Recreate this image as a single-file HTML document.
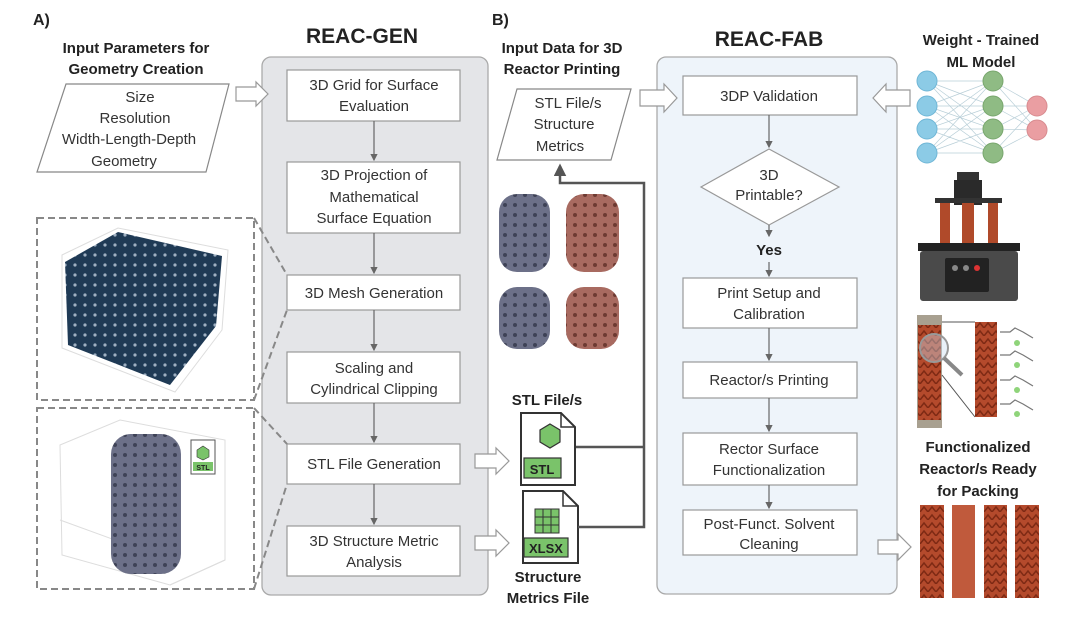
<!DOCTYPE html>
<html><head><meta charset="utf-8"><style>
html,body{margin:0;padding:0;background:#fff}
svg{display:block}
text{font-family:"Liberation Sans",sans-serif;fill:#333}
.b{font-weight:bold;fill:#222}
</style></head><body>
<svg width="1080" height="619" viewBox="0 0 1080 619" xmlns="http://www.w3.org/2000/svg">
<defs>
<marker id="ah" markerWidth="6" markerHeight="6" refX="5" refY="3" orient="auto"><path d="M0,0 L6,3 L0,6 z" fill="#666"/></marker>
<marker id="ah2" markerWidth="5" markerHeight="5" refX="4" refY="2.5" orient="auto"><path d="M0,0 L5,2.5 L0,5 z" fill="#555"/></marker>
<pattern id="pb" width="10" height="10" patternUnits="userSpaceOnUse"><rect width="10" height="10" fill="#6c7088"/><circle cx="5" cy="5" r="2" fill="#3e4256"/></pattern>
<pattern id="pr" width="10" height="10" patternUnits="userSpaceOnUse"><rect width="10" height="10" fill="#a86a60"/><circle cx="5" cy="5" r="2" fill="#6e3a32"/></pattern>
<pattern id="po" width="8" height="8" patternUnits="userSpaceOnUse"><rect width="8" height="8" fill="#b44a2c"/><path d="M0,8 L4,3 L8,8" stroke="#7e2a14" fill="none" stroke-width="1.5"/></pattern>
<pattern id="pd" width="10" height="10" patternUnits="userSpaceOnUse"><rect width="10" height="10" fill="#1f3a55"/><circle cx="5" cy="5" r="1.6" fill="#9fb0c2"/></pattern>
</defs>

<!-- labels -->
<text x="33" y="25" class="b" font-size="16">A)</text>
<text x="492" y="25" class="b" font-size="16">B)</text>
<text x="362" y="43" class="b" font-size="21" text-anchor="middle">REAC-GEN</text>
<text x="769" y="46" class="b" font-size="21" text-anchor="middle">REAC-FAB</text>
<text x="136" y="53" class="b" font-size="15" text-anchor="middle">Input Parameters for</text>
<text x="136" y="74" class="b" font-size="15" text-anchor="middle">Geometry Creation</text>
<text x="562" y="53" class="b" font-size="15" text-anchor="middle">Input Data for 3D</text>
<text x="562" y="74" class="b" font-size="15" text-anchor="middle">Reactor Printing</text>
<text x="981" y="45" class="b" font-size="15" text-anchor="middle">Weight - Trained</text>
<text x="981" y="67" class="b" font-size="15" text-anchor="middle">ML Model</text>

<!-- input parallelogram A -->
<polygon points="66,84 229,84 206,172 37,172" fill="#fff" stroke="#888" stroke-width="1.2"/>
<text x="140" y="102" font-size="15" text-anchor="middle">Size</text>
<text x="135" y="123" font-size="15" text-anchor="middle">Resolution</text>
<text x="129" y="144" font-size="15" text-anchor="middle">Width-Length-Depth</text>
<text x="124" y="166" font-size="15" text-anchor="middle">Geometry</text>

<!-- GEN panel -->
<rect x="262" y="57" width="226" height="538" rx="9" fill="#e4e5e8" stroke="#aaa" stroke-width="1.3"/>
<path d="M236,87 H256 V82 L268,94 L256,106 V101 H236 Z" fill="#fff" stroke="#999" stroke-width="1.2"/>
<g fill="#fff" stroke="#999" stroke-width="1.2">
<rect x="287" y="70" width="173" height="51"/>
<rect x="287" y="162" width="173" height="71"/>
<rect x="287" y="275" width="173" height="35"/>
<rect x="287" y="352" width="173" height="51"/>
<rect x="287" y="444" width="173" height="40"/>
<rect x="287" y="526" width="173" height="50"/>
</g>
<g stroke="#666" stroke-width="1.2" marker-end="url(#ah)">
<line x1="374" y1="121" x2="374" y2="160"/>
<line x1="374" y1="233" x2="374" y2="273"/>
<line x1="374" y1="310" x2="374" y2="350"/>
<line x1="374" y1="403" x2="374" y2="442"/>
<line x1="374" y1="484" x2="374" y2="524"/>
</g>
<g font-size="15" text-anchor="middle">
<text x="374" y="90">3D Grid for Surface</text>
<text x="374" y="111">Evaluation</text>
<text x="374" y="180">3D Projection of</text>
<text x="374" y="202">Mathematical</text>
<text x="374" y="223">Surface Equation</text>
<text x="374" y="298">3D Mesh Generation</text>
<text x="374" y="373">Scaling and</text>
<text x="374" y="394">Cylindrical Clipping</text>
<text x="374" y="469">STL File Generation</text>
<text x="374" y="546">3D Structure Metric</text>
<text x="374" y="567">Analysis</text>
</g>

<!-- dashed boxes -->
<g fill="none" stroke="#888" stroke-width="2" stroke-dasharray="7,4">
<rect x="37" y="218" width="217" height="182"/>
<rect x="37" y="408" width="217" height="181"/>
<path d="M254,218 L287,275 M254,400 L287,310"/>
<path d="M254,408 L287,444 M254,589 L287,484"/>
</g>
<!-- plot 1 -->
<polygon points="62,255 118,228 228,250 222,330 175,392 62,348" fill="#fff" stroke="#ddd"/>
<polygon points="65,262 118,232 222,256 216,326 170,385 68,345" fill="url(#pd)"/>
<!-- plot 2 -->
<g stroke="#ddd" fill="none"><polygon points="60,445 120,420 225,440 225,560 170,585 62,555"/>
<line x1="60" y1="520" x2="170" y2="560"/><line x1="170" y1="585" x2="225" y2="560"/></g>
<rect x="111" y="434" width="70" height="140" rx="20" fill="url(#pb)"/>
<rect x="191" y="440" width="24" height="34" fill="#fff" stroke="#555"/>
<rect x="193" y="462" width="20" height="9" fill="#7ac36a"/>
<text x="203" y="470" font-size="7" text-anchor="middle" class="b">STL</text>
<polygon points="203,446 209,450 209,457 203,460 197,457 197,450" fill="#7ac36a" stroke="#333" stroke-width=".6"/>

<!-- B input -->
<polygon points="517,89 631,89 611,160 497,160" fill="#fff" stroke="#888" stroke-width="1.2"/>
<text x="568" y="108" font-size="15" text-anchor="middle">STL File/s</text>
<text x="564" y="129" font-size="15" text-anchor="middle">Structure</text>
<text x="560" y="151" font-size="15" text-anchor="middle">Metrics</text>

<!-- cylinders -->
<rect x="499" y="194" width="51" height="78" rx="18" fill="url(#pb)"/>
<rect x="566" y="194" width="53" height="78" rx="18" fill="url(#pr)"/>
<rect x="499" y="287" width="51" height="62" rx="18" fill="url(#pb)"/>
<rect x="566" y="287" width="53" height="62" rx="18" fill="url(#pr)"/>
<text x="547" y="405" class="b" font-size="15" text-anchor="middle">STL File/s</text>
<text x="548" y="582" class="b" font-size="15" text-anchor="middle">Structure</text>
<text x="548" y="603" class="b" font-size="15" text-anchor="middle">Metrics File</text>

<!-- file icons -->
<path d="M521,413 H561 L575,427 V485 H521 Z" fill="#fff" stroke="#333" stroke-width="2"/>
<path d="M561,413 V427 H575" fill="none" stroke="#333" stroke-width="1.5"/>
<polygon points="550,424 560,430 560,442 550,448 540,442 540,430" fill="#7ac36a" stroke="#333" stroke-width="1.2"/>
<rect x="524" y="458" width="37" height="20" fill="#7ac36a" stroke="#333" stroke-width="1.2"/>
<text x="542" y="474" font-size="13" class="b" text-anchor="middle">STL</text>
<path d="M523,491 H563 L578,506 V563 H523 Z" fill="#fff" stroke="#333" stroke-width="2"/>
<path d="M563,491 V506 H578" fill="none" stroke="#333" stroke-width="1.5"/>
<rect x="535" y="509" width="24" height="24" fill="#7ac36a" stroke="#333"/>
<path d="M543,509 V533 M551,509 V533 M535,517 H559 M535,525 H559" stroke="#333"/>
<rect x="524" y="538" width="44" height="19" fill="#7ac36a" stroke="#333" stroke-width="1.2"/>
<text x="546" y="553" font-size="13" class="b" text-anchor="middle">XLSX</text>

<!-- hollow arrows to files -->
<path d="M475,454 H496 V448 L509,461 L496,474 V468 H475 Z" fill="#fff" stroke="#999" stroke-width="1.2"/>
<path d="M475,536 H496 V530 L509,543 L496,556 V550 H475 Z" fill="#fff" stroke="#999" stroke-width="1.2"/>
<!-- feedback line -->
<path d="M576,447 H644 M578,527 H644 V183 H560 V166" fill="none" stroke="#555" stroke-width="2.5" marker-end="url(#ah2)"/>

<!-- FAB panel -->
<rect x="657" y="57" width="240" height="537" rx="9" fill="#eef4fa" stroke="#aaa" stroke-width="1.3"/>
<path d="M640,90 H664 V84 L677,98 L664,112 V106 H640 Z" fill="#fff" stroke="#999" stroke-width="1.2"/>
<g fill="#fff" stroke="#999" stroke-width="1.2">
<rect x="683" y="76" width="174" height="39"/>
<polygon points="769,149 839,187 769,225 701,187"/>
<rect x="683" y="278" width="174" height="50"/>
<rect x="683" y="362" width="174" height="36"/>
<rect x="683" y="433" width="174" height="52"/>
<rect x="683" y="510" width="174" height="45"/>
</g>
<g stroke="#666" stroke-width="1.2" marker-end="url(#ah)">
<line x1="769" y1="115" x2="769" y2="147"/>
<line x1="769" y1="225" x2="769" y2="236"/>
<line x1="769" y1="262" x2="769" y2="276"/>
<line x1="769" y1="328" x2="769" y2="360"/>
<line x1="769" y1="398" x2="769" y2="431"/>
<line x1="769" y1="485" x2="769" y2="508"/>
</g>
<g font-size="15" text-anchor="middle">
<text x="769" y="101">3DP Validation</text>
<text x="769" y="180">3D</text>
<text x="769" y="200">Printable?</text>
<text x="769" y="255" class="b">Yes</text>
<text x="769" y="298">Print Setup and</text>
<text x="769" y="319">Calibration</text>
<text x="769" y="385">Reactor/s Printing</text>
<text x="769" y="454">Rector Surface</text>
<text x="769" y="475">Functionalization</text>
<text x="769" y="529">Post-Funct. Solvent</text>
<text x="769" y="549">Cleaning</text>
</g>

<!-- NN -->
<g stroke="#b9cfd8" stroke-width=".7">
<path d="M927,81 L993,81 M927,81 L993,106 M927,81 L993,129 M927,81 L993,153 M927,106 L993,81 M927,106 L993,106 M927,106 L993,129 M927,106 L993,153 M927,129 L993,81 M927,129 L993,106 M927,129 L993,129 M927,129 L993,153 M927,153 L993,81 M927,153 L993,106 M927,153 L993,129 M927,153 L993,153 M993,81 L1037,106 M993,81 L1037,130 M993,106 L1037,106 M993,106 L1037,130 M993,129 L1037,106 M993,129 L1037,130 M993,153 L1037,106 M993,153 L1037,130"/>
</g>
<g fill="#8ccbe6" stroke="#6fb6d6"><circle cx="927" cy="81" r="10"/><circle cx="927" cy="106" r="10"/><circle cx="927" cy="129" r="10"/><circle cx="927" cy="153" r="10"/></g>
<g fill="#8fbb84" stroke="#78a66d"><circle cx="993" cy="81" r="10"/><circle cx="993" cy="106" r="10"/><circle cx="993" cy="129" r="10"/><circle cx="993" cy="153" r="10"/></g>
<g fill="#ea9ea2" stroke="#d88b8f"><circle cx="1037" cy="106" r="10"/><circle cx="1037" cy="130" r="10"/></g>
<path d="M910,90 H886 V84 L873,98 L886,112 V106 H910 Z" fill="#fff" stroke="#999" stroke-width="1.2"/>

<!-- printer -->
<rect x="957" y="172" width="22" height="8" fill="#333"/>
<rect x="954" y="180" width="28" height="25" fill="#2a2a2a"/>
<rect x="935" y="198" width="67" height="5" fill="#333"/>
<rect x="940" y="203" width="10" height="42" fill="#b04a2a"/>
<rect x="962" y="203" width="12" height="42" fill="#b04a2a"/>
<rect x="988" y="203" width="10" height="42" fill="#b04a2a"/>
<rect x="918" y="243" width="102" height="8" fill="#222"/>
<rect x="920" y="251" width="98" height="50" rx="3" fill="#4a4a4a"/>
<rect x="945" y="258" width="44" height="34" rx="2" fill="#222"/>
<circle cx="955" cy="268" r="3" fill="#888"/><circle cx="966" cy="268" r="3" fill="#888"/><circle cx="977" cy="268" r="3" fill="#d33"/>

<!-- functionalization image -->
<rect x="917" y="315" width="25" height="113" fill="#a8a090"/>
<rect x="918" y="325" width="23" height="95" fill="url(#po)"/>
<rect x="975" y="322" width="22" height="95" fill="url(#po)"/>
<path d="M942,322 L975,322 M942,375 L975,417" stroke="#555" fill="none"/>
<circle cx="934" cy="348" r="14" fill="rgba(200,220,240,.4)" stroke="#999" stroke-width="2"/>
<line x1="944" y1="358" x2="962" y2="375" stroke="#888" stroke-width="4"/>
<g fill="#8fd47a"><circle cx="1017" cy="343" r="3"/><circle cx="1017" cy="365" r="3"/><circle cx="1017" cy="390" r="3"/><circle cx="1017" cy="414" r="3"/></g>
<g stroke="#777" fill="none" stroke-width="1.2"><path d="M1000,332 h10 l5,-4 l8,4 l10,6 M1000,355 h10 l5,-4 l8,4 l10,6 M1000,380 h10 l5,-4 l8,4 l10,6 M1000,404 h10 l5,-4 l8,4 l10,6"/></g>
<text x="978" y="452" class="b" font-size="15" text-anchor="middle">Functionalized</text>
<text x="978" y="474" class="b" font-size="15" text-anchor="middle">Reactor/s Ready</text>
<text x="978" y="496" class="b" font-size="15" text-anchor="middle">for Packing</text>
<rect x="920" y="505" width="24" height="93" fill="url(#po)"/>
<rect x="952" y="505" width="23" height="93" fill="#c05a3c"/>
<rect x="984" y="505" width="23" height="93" fill="url(#po)"/>
<rect x="1015" y="505" width="24" height="93" fill="url(#po)"/>
<path d="M878,540 H898 V534 L911,547 L898,560 V554 H878 Z" fill="#fff" stroke="#999" stroke-width="1.2"/>
</svg>
</body></html>
